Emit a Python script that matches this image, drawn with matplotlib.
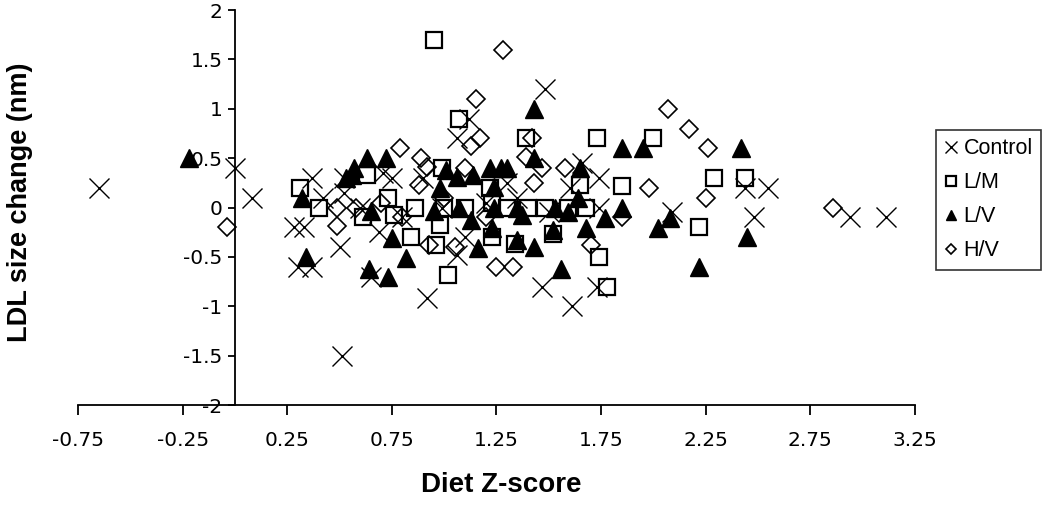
import matplotlib
matplotlib.use('Agg')
import matplotlib.pyplot as plt

plt.rcParams['font.family'] = ['Liberation Sans', 'DejaVu Sans']

# Control (x)
control_x = [-0.65, 0.00, 0.08, 0.28, 0.33, 0.30, 0.37, 0.37, 0.42, 0.51, 0.50, 0.52,
             0.52, 0.65, 0.71, 0.75, 0.69, 0.92, 1.06, 1.12, 1.06, 1.48, 1.47, 1.61,
             1.66, 1.74, 1.73, 1.74, 2.09, 2.44, 2.55, 2.48, 2.94, 3.11, 0.99, 1.20,
             1.35, 1.10, 0.80, 1.30, 1.50, 1.60, 0.60, 0.90]
control_y = [0.2, 0.4, 0.1, -0.2, -0.2, -0.6, -0.6, 0.3, 0.1, -1.5, -0.4, 0.3,
             0.15, -0.7, 0.35, 0.3, -0.25, -0.92, 0.7, 0.9, -0.48, 1.2, -0.8, -1.0,
             0.45, 0.3, -0.8, 0.0, -0.05, 0.2, 0.2, -0.1, -0.1, -0.1, 0.0, 0.05,
             0.1, -0.3, -0.1, 0.25, -0.05, 0.2, 0.0, 0.3]

# L/M (squares)
lm_x = [0.31, 0.40, 0.95, 1.07, 1.39, 1.73, 2.00, 0.63, 0.99, 0.73, 0.61, 0.76,
        0.86, 1.00, 0.98, 0.84, 0.96, 1.02, 1.22, 1.23, 1.23, 1.34, 1.48, 1.52,
        1.10, 1.30, 1.40, 1.65, 1.85, 1.68, 1.74, 1.78, 2.22, 2.29, 2.44, 1.59]
lm_y = [0.2, 0.0, 1.7, 0.9, 0.7, 0.7, 0.7, 0.33, 0.4, 0.1, -0.1, -0.08,
        0.0, 0.0, -0.18, -0.3, -0.38, -0.68, 0.2, 0.05, -0.3, -0.37, 0.0, -0.27,
        0.0, 0.0, 0.0, 0.23, 0.22, 0.0, -0.5, -0.8, -0.2, 0.3, 0.3, 0.0]

# L/V (filled triangles)
lv_x = [-0.22, 0.32, 0.34, 0.53, 0.57, 0.63, 0.72, 0.56, 0.65, 0.75, 0.82, 0.64,
        0.73, 0.95, 0.98, 1.01, 1.06, 1.14, 1.22, 1.27, 1.30, 1.24, 1.07, 1.24,
        1.35, 1.53, 1.13, 1.37, 1.23, 1.52, 1.16, 1.35, 1.43, 1.43, 1.43, 1.56,
        1.65, 1.64, 1.59, 1.68, 1.77, 1.85, 1.95, 1.85, 2.02, 2.08, 2.22, 2.42,
        2.45]
lv_y = [0.5, 0.1, -0.5, 0.3, 0.4, 0.5, 0.5, 0.33, -0.03, -0.31, -0.51, -0.62,
        -0.7, -0.03, 0.2, 0.38, 0.31, 0.33, 0.4, 0.4, 0.4, 0.21, 0.0, 0.0,
        0.0, 0.0, -0.13, -0.08, -0.21, -0.23, -0.41, -0.33, -0.4, 1.0, 0.5, -0.62,
        0.4, 0.1, -0.04, -0.21, -0.11, 0.6, 0.6, 0.0, -0.21, -0.11, -0.6, 0.6,
        -0.3]

# H/V (diamonds)
hv_x = [-0.04, 0.49, 0.49, 0.58, 0.79, 0.89, 0.92, 0.88, 0.93, 1.15, 1.28, 1.17,
        1.13, 1.10, 1.39, 1.42, 1.47, 1.58, 1.43, 1.25, 1.33, 1.05, 1.70, 1.85,
        1.98, 2.07, 2.17, 2.26, 2.25, 2.86, 0.70, 0.80, 1.00, 1.20]
hv_y = [-0.2, 0.0, -0.19, 0.0, 0.6, 0.5, 0.41, 0.23, -0.38, 1.1, 1.6, 0.7,
        0.62, 0.4, 0.51, 0.7, 0.4, 0.4, 0.25, -0.6, -0.6, -0.4, -0.38, -0.1,
        0.2, 1.0, 0.8, 0.6, 0.1, 0.0, 0.05, -0.1, 0.1, -0.1]

fig = plt.figure(figsize=(10.5, 5.05), dpi=100)
ax = fig.add_axes([0.0743, 0.198, 0.797, 0.782])

ax.plot(control_x, control_y, linestyle='none', marker='x', ms=14.5, mew=1,
        color='black', label='Control')
ax.plot(lm_x, lm_y, linestyle='none', marker='s', ms=11.5, mew=1.6,
        mfc='none', mec='black', label='L/M')
ax.plot(lv_x, lv_y, linestyle='none', marker='^', ms=13, mew=1,
        mfc='black', mec='black', label='L/V')
ax.plot(hv_x, hv_y, linestyle='none', marker='D', ms=9, mew=1.2,
        mfc='none', mec='black', label='H/V')

ax.set_xlim(-0.75, 3.25)
ax.set_ylim(-2, 2)
ax.set_xticks([-0.75, -0.25, 0.25, 0.75, 1.25, 1.75, 2.25, 2.75, 3.25])
ax.set_xticklabels(['-0.75', '-0.25', '0.25', '0.75', '1.25', '1.75', '2.25', '2.75', '3.25'])
ax.set_yticks([-2, -1.5, -1, -0.5, 0, 0.5, 1, 1.5, 2])
ax.set_yticklabels(['-2', '-1.5', '-1', '-0.5', '0', '0.5', '1', '1.5', '2'])

ax.spines['left'].set_position(('data', 0))
ax.spines['top'].set_visible(False)
ax.spines['right'].set_visible(False)
ax.spines['left'].set_linewidth(1.3)
ax.spines['bottom'].set_linewidth(1.3)
ax.tick_params(axis='x', direction='out', length=7, width=1.3, labelsize=14.5, pad=12)
ax.tick_params(axis='y', direction='out', length=5, width=1.3, labelsize=14.5, pad=4)
for lab in ax.get_xticklabels() + ax.get_yticklabels():
    lab.set_family('DejaVu Sans')

fig.text(0.019, 0.6, 'LDL size change (nm)', rotation=90, ha='center', va='center',
         fontsize=19.5, fontweight='bold')
fig.text(0.477, 0.04, 'Diet Z-score', ha='center', va='center',
         fontsize=20, fontweight='bold')

leg = fig.legend(loc='upper left', bbox_to_anchor=(0.891, 0.743), fontsize=15.5,
                 markerscale=0.6, frameon=True, fancybox=False, edgecolor='black',
                 handlelength=0.6, handletextpad=0.3, labelspacing=0.6,
                 borderpad=0.4, borderaxespad=0)
leg.get_frame().set_linewidth(1.2)

fig.savefig('out.png', dpi=100)
